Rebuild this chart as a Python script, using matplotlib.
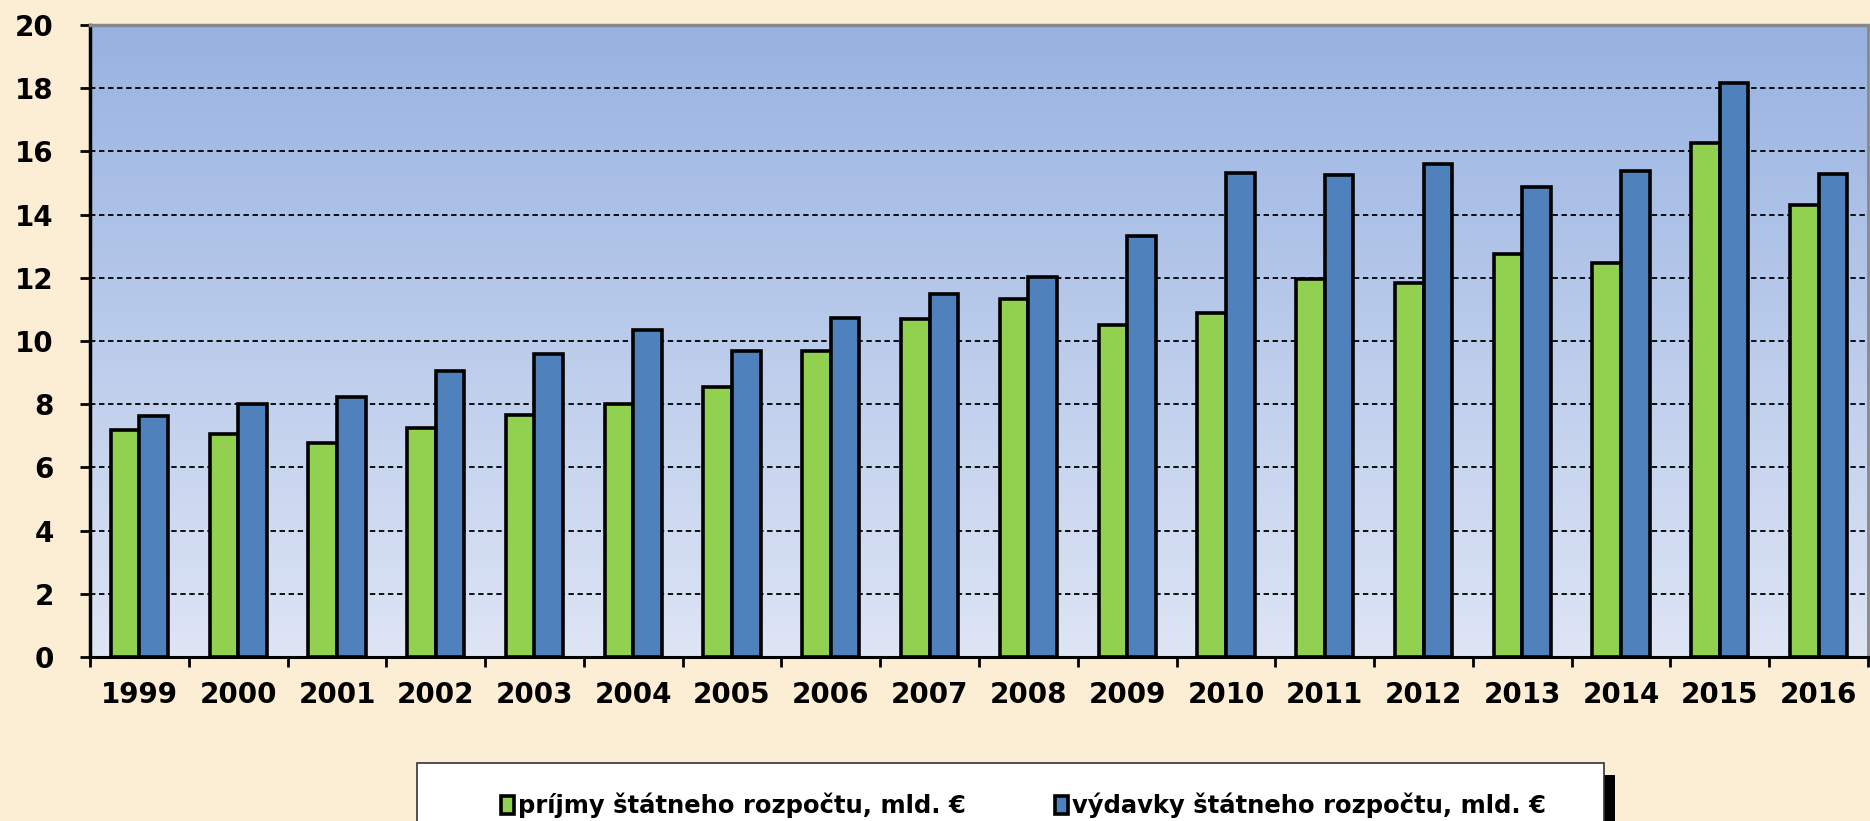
import numpy as np
import matplotlib
matplotlib.use('Agg')
import matplotlib.pyplot as plt
from matplotlib.patches import Rectangle

years = ['1999', '2000', '2001', '2002', '2003', '2004', '2005', '2006', '2007',
         '2008', '2009', '2010', '2011', '2012', '2013', '2014', '2015', '2016']
prijmy = [7.18, 7.07, 6.77, 7.26, 7.67, 8.02, 8.54, 9.68, 10.70,
          11.34, 10.51, 10.89, 11.95, 11.83, 12.74, 12.48, 16.26, 14.29]
vydavky = [7.64, 8.02, 8.24, 9.04, 9.60, 10.36, 9.68, 10.74, 11.49,
           12.02, 13.31, 15.31, 15.24, 15.61, 14.86, 15.39, 18.15, 15.27]
labels = ['príjmy štátneho rozpočtu, mld. €', 'výdavky štátneho rozpočtu, mld. €']

plt.rcParams['font.family'] = ['DejaVu Sans']

W, H = 1870, 821
fig = plt.figure(figsize=(18.7, 8.21), dpi=100, facecolor='#FBEED5')
ax = fig.add_axes([90 / W, 1 - 657 / H, 1778 / W, 632 / H])

# gradient background of plot area
grad = np.linspace(0, 1, 256).reshape(-1, 1)
cmap = matplotlib.colors.LinearSegmentedColormap.from_list('bg', ['#DEE5F5', '#97B2E1'])
ax.imshow(grad, cmap=cmap, origin='lower', aspect='auto', extent=[0, 1, 0, 1],
          transform=ax.transAxes, zorder=0)

x = np.arange(len(years))
w = 0.29
ax.bar(x - w / 2, prijmy, w, color='#92D050', edgecolor='black', linewidth=2.6,
       label=labels[0], zorder=3)
ax.bar(x + w / 2, vydavky, w, color='#4F81BD', edgecolor='black', linewidth=2.6,
       label=labels[1], zorder=3)

ax.set_xlim(-0.5, len(years) - 0.5)
ax.set_ylim(0, 20)
ax.set_yticks(range(0, 21, 2))
ax.set_xticks(x)
ax.set_xticklabels(years)
ax.set_xticks(np.arange(-0.5, len(years), 1), minor=True)
ax.tick_params(axis='x', which='major', length=0, pad=17, labelsize=20)
ax.tick_params(axis='x', which='minor', length=7, width=2, color='black')
ax.tick_params(axis='y', length=7, width=2, pad=19, labelsize=20)
for t in ax.get_xticklabels() + ax.get_yticklabels():
    t.set_fontweight('bold')

for yv in range(2, 20, 2):
    ax.axhline(yv, color='black', lw=1.3, ls=(0, (3, 2)), zorder=2)

ax.spines['left'].set_linewidth(2.5)
ax.spines['bottom'].set_linewidth(2.2)
ax.spines['top'].set_color('#888888')
ax.spines['top'].set_linewidth(2.5)
ax.spines['right'].set_color('#888888')
ax.spines['right'].set_linewidth(2)

# legend box with shadow (bottom runs off the figure)
fig.patches.append(Rectangle((1604 / W, -0.1), 11 / W, 0.1 + 1 - 775 / H,
                             transform=fig.transFigure, facecolor='black', edgecolor='none'))
fig.patches.append(Rectangle((417 / W, -0.1), 1187 / W, 0.1 + 1 - 763 / H,
                             transform=fig.transFigure, facecolor='white',
                             edgecolor='#333333', linewidth=1.2))

leg = fig.legend(loc='center left', bbox_to_anchor=(501 / W, 1 - 806 / H, 1045 / W, 0.001),
                 mode='expand', ncol=2, frameon=False, borderpad=0, borderaxespad=0,
                 handlelength=0.55, handleheight=0.8, handletextpad=0.15,
                 prop={'size': 17.5, 'weight': 'bold'})

fig.savefig('out.png', dpi=100, facecolor=fig.get_facecolor())
